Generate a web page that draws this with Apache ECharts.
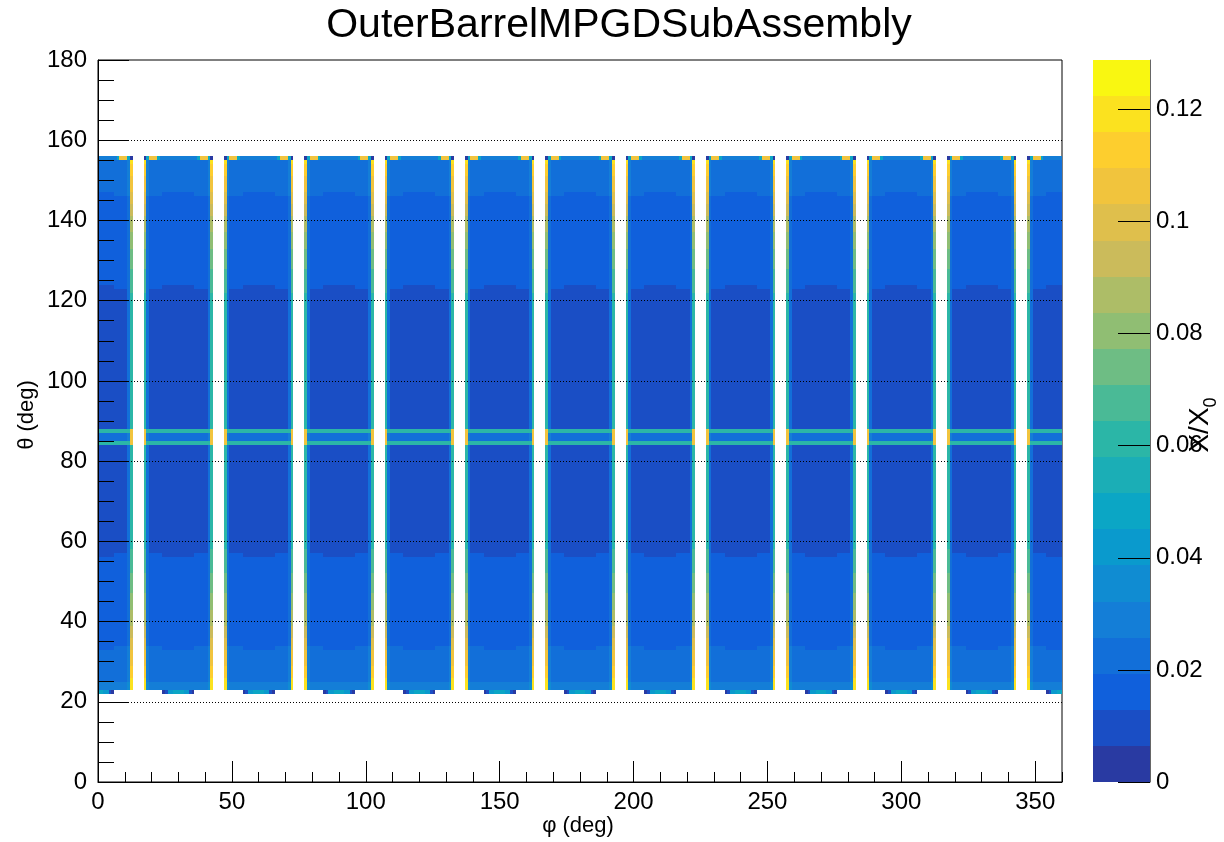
<!DOCTYPE html>
<html>
<head>
<meta charset="utf-8">
<title>OuterBarrelMPGDSubAssembly</title>
<script src="https://cdn.jsdelivr.net/npm/echarts@6.0.0/dist/echarts.min.js"></script>
<style>
  html, body { margin: 0; padding: 0; background: #fff; }
  #chart { width: 1224px; height: 842px; }
</style>
</head>
<body>
<div id="chart"></div>
<script>
(function () {

  // --- values ---
  var zTicks = [0, 0.02, 0.04, 0.06, 0.08, 0.1, 0.12];
  var zMax = 0.1288;
  // kBird-like palette, 20 contour levels (bottom -> top)
  var palette = [
    '#293aa2', '#1a4ec5', '#1060dc', '#126fd9', '#147ed7',
    '#108cd2', '#0a9acd', '#0ba6c5', '#1baeb6', '#2bb6a7',
    '#4aba96', '#6ebd84', '#90be73', '#adbd67', '#cbbb5b',
    '#dfbf4c', '#f1c43d', '#fdce2e', '#fbe21f', '#f9f711'
  ];

  // column kinds inside one 30 deg module period, d = -15 .. 14 (1 deg bins)
  var moduleColumns = [
    'gap', 'gap', 'edge', 'near',
    'body', 'body', 'body', 'body', 'body',
    'mid', 'mid', 'mid', 'mid', 'mid', 'mid', 'mid', 'mid', 'mid', 'mid', 'mid', 'mid',
    'body', 'body', 'body', 'body', 'body',
    'near', 'edge', 'gap', 'gap'
  ];

  // theta bands: [from, to, body, mid, near, edge]  (X/X0)
  var thetaRows = [
    [23, 25, 0.029, 0.029, 0.035, 0.119],
    [25, 26, 0.022, 0.022, 0.029, 0.119],
    [26, 29, 0.022, 0.022, 0.029, 0.112],
    [29, 33, 0.022, 0.022, 0.029, 0.106],
    [33, 34, 0.022, 0.016, 0.029, 0.099],
    [34, 36, 0.016, 0.016, 0.022, 0.099],
    [36, 39, 0.016, 0.016, 0.022, 0.093],
    [39, 43, 0.016, 0.016, 0.022, 0.087],
    [43, 47, 0.016, 0.016, 0.022, 0.080],
    [47, 52, 0.016, 0.016, 0.022, 0.074],
    [52, 56, 0.016, 0.016, 0.022, 0.068],
    [56, 57, 0.016, 0.010, 0.022, 0.068],
    [57, 58, 0.010, 0.010, 0.022, 0.068],
    [58, 84, 0.010, 0.010, 0.022, 0.061],
    [84, 85, 0.058, 0.058, 0.061, 0.106],
    [85, 87, 0.022, 0.022, 0.029, 0.106],
    [87, 88, 0.058, 0.058, 0.061, 0.106],
    [88, 122, 0.010, 0.010, 0.022, 0.061],
    [122, 123, 0.010, 0.010, 0.022, 0.068],
    [123, 124, 0.016, 0.010, 0.022, 0.068],
    [124, 128, 0.016, 0.016, 0.022, 0.068],
    [128, 133, 0.016, 0.016, 0.022, 0.074],
    [133, 137, 0.016, 0.016, 0.022, 0.080],
    [137, 141, 0.016, 0.016, 0.022, 0.087],
    [141, 144, 0.016, 0.016, 0.022, 0.093],
    [144, 146, 0.016, 0.016, 0.022, 0.099],
    [146, 147, 0.022, 0.016, 0.029, 0.099],
    [147, 151, 0.022, 0.022, 0.029, 0.106],
    [151, 154, 0.022, 0.022, 0.029, 0.112],
    [154, 155, 0.022, 0.022, 0.029, 0.119]
  ];

  // first / last theta rows, same d = -15 .. 14 layout
  var topRow = [
    null, null, 0.005, 0.048, 0.108, 0.108, 0.108, 0.048,
    0.029, 0.029, 0.029, 0.029, 0.029, 0.029, 0.029,
    0.029, 0.029, 0.029, 0.029, 0.029, 0.029, 0.029,
    0.048, 0.108, 0.108, 0.108, 0.048, 0.005, null, null
  ];
  var bottomRow = [
    null, null, null, null, null, null, null, null, null,
    0.004, 0.010, 0.042, 0.042, 0.050, 0.050, 0.050, 0.050, 0.042, 0.042, 0.010, 0.004,
    null, null, null, null, null, null, null, null, null
  ];

  // --- build cells (runs of equal value along phi) ---
  var cells = [];
  function addRow(t0, t1, valueAt) {
    var start = 0, cur = valueAt(0);
    for (var i = 1; i <= 360; i++) {
      var v = i < 360 ? valueAt(i) : undefined;
      if (v !== cur) {
        if (cur != null) cells.push([start, i, t0, t1, cur]);
        start = i;
        cur = v;
      }
    }
  }
  var kindIdx = { body: 2, mid: 3, near: 4, edge: 5 };
  thetaRows.forEach(function (r) {
    addRow(r[0], r[1], function (i) {
      var k = moduleColumns[(i + 15) % 30];
      return k === 'gap' ? null : r[kindIdx[k]];
    });
  });
  addRow(155, 156, function (i) { return topRow[(i + 15) % 30]; });
  addRow(22, 23, function (i) { return bottomRow[(i + 15) % 30]; });

  var step = zMax / palette.length;
  var pieces = palette.map(function (c, k) {
    return { gte: k * step, lt: (k + 1) * step + (k === palette.length - 1 ? 1 : 0), color: c };
  });
  var levels = palette.map(function (c, k) { return [k * step, (k + 1) * step, k]; });

  // snapped rectangle so neighbouring cells share pixel edges
  function cellRect(a, b, fill) {
    var x0 = Math.round(Math.min(a[0], b[0])), x1 = Math.round(Math.max(a[0], b[0]));
    var y0 = Math.round(Math.min(a[1], b[1])), y1 = Math.round(Math.max(a[1], b[1]));
    return {
      type: 'rect',
      shape: { x: x0, y: y0, width: x1 - x0, height: y1 - y0 },
      style: { fill: fill }
    };
  }

  var font = 'Liberation Sans, Arial, sans-serif';
  var chart = echarts.init(document.getElementById('chart'), null, { renderer: 'canvas' });

  var option = {
    animation: false,
    textStyle: { fontFamily: font },
    grid: [
      { left: 98, top: 60, width: 964, height: 722, show: true, borderColor: '#000', borderWidth: 1, backgroundColor: 'transparent' },
      { left: 1093, top: 60, width: 57, height: 722 }
    ],
    xAxis: [
      {
        type: 'value', gridIndex: 0, position: 'bottom', min: 0, max: 360, interval: 50, z: 10,
        axisLine: { onZero: false, lineStyle: { color: '#000', width: 1 } },
        axisTick: { inside: true, length: 21, lineStyle: { color: '#000' } },
        axisLabel: { fontSize: 24, color: '#000', margin: 8, showMaxLabel: false, fontFamily: font },
        splitLine: { show: false }
      },
      {
        type: 'value', gridIndex: 0, position: 'bottom', min: 0, max: 360, interval: 10, z: 10,
        axisLine: { show: false, onZero: false },
        axisTick: { inside: true, length: 10, lineStyle: { color: '#000' } },
        axisLabel: { show: false },
        splitLine: { show: false }
      },
      {
        type: 'value', gridIndex: 1, min: 0, max: 1, show: false
      }
    ],
    yAxis: [
      {
        type: 'value', gridIndex: 0, position: 'left', min: 0, max: 180, interval: 20, z: 10,
        axisLine: { onZero: false, lineStyle: { color: '#000', width: 1 } },
        axisTick: { inside: true, length: 31, lineStyle: { color: '#000' } },
        axisLabel: { fontSize: 24, color: '#000', margin: 11, fontFamily: font },
        splitLine: { show: true, showMinLine: false, showMaxLine: false, lineStyle: { color: '#000', width: 1, type: [1, 2] } }
      },
      {
        type: 'value', gridIndex: 0, position: 'left', min: 0, max: 180, interval: 5, z: 10,
        axisLine: { show: false, onZero: false },
        axisTick: { inside: true, length: 16, lineStyle: { color: '#000' } },
        axisLabel: { show: false },
        splitLine: { show: false }
      },
      {
        type: 'value', gridIndex: 1, min: 0, max: zMax, interval: 0.02, position: 'right', z: 10,
        axisLine: { show: true, onZero: false, lineStyle: { color: '#666', width: 1 } },
        axisTick: { inside: true, length: 32, customValues: zTicks, lineStyle: { color: '#000' } },
        axisLabel: { fontSize: 24, color: '#000', margin: 6, customValues: zTicks, fontFamily: font },
        splitLine: { show: false }
      }
    ],
    visualMap: {
      type: 'piecewise', show: false, seriesIndex: 0, dimension: 4, pieces: pieces
    },
    series: [
      {
        type: 'custom',
        xAxisIndex: 0, yAxisIndex: 0,
        progressive: 0,
        data: cells,
        encode: { x: [0, 1], y: [2, 3] },
        renderItem: function (params, api) {
          var p0 = api.coord([api.value(0), api.value(3)]);
          var p1 = api.coord([api.value(1), api.value(2)]);
          return cellRect(p0, p1, api.visual('color'));
        }
      },
      {
        type: 'custom',
        xAxisIndex: 2, yAxisIndex: 2,
        data: levels,
        encode: { y: [0, 1] },
        renderItem: function (params, api) {
          var p0 = api.coord([0, api.value(1)]);
          var p1 = api.coord([1, api.value(0)]);
          return cellRect(p0, p1, palette[api.value(2)]);
        }
      }
    ],
    graphic: [
      {
        type: 'text', x: 619, y: 26,
        style: { text: 'OuterBarrelMPGDSubAssembly', fontSize: 41, fontFamily: font, fill: '#000', align: 'center', verticalAlign: 'middle' }
      },
      {
        type: 'text', x: 578, y: 826,
        style: { text: 'φ (deg)', fontSize: 22, fontFamily: font, fill: '#000', align: 'center', verticalAlign: 'middle' }
      },
      {
        type: 'text', x: 27, y: 415, rotation: Math.PI / 2,
        style: { text: 'θ (deg)', fontSize: 22, fontFamily: font, fill: '#000', align: 'center', verticalAlign: 'middle' }
      },
      {
        type: 'text', x: 1203, y: 425, rotation: Math.PI / 2, z: 20,
        style: {
          text: '{m|X/X}{s|0}', fill: '#000', align: 'center', verticalAlign: 'middle',
          rich: {
            m: { fontSize: 28, fontFamily: font, fill: '#000', verticalAlign: 'top', lineHeight: 34 },
            s: { fontSize: 18, fontFamily: font, fill: '#000', verticalAlign: 'bottom', lineHeight: 22 }
          }
        }
      }
    ]
  };

  chart.setOption(option);
}());
</script>
</body>
</html>
